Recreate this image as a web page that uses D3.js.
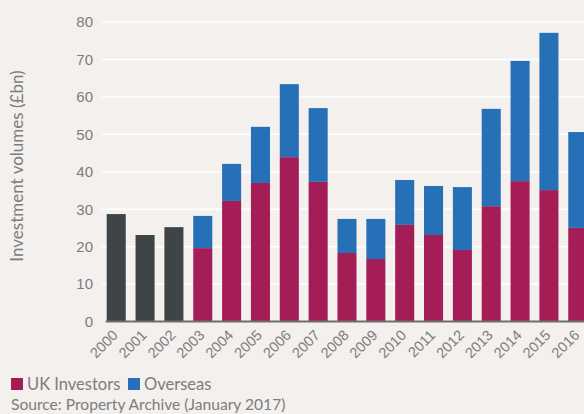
<!DOCTYPE html>
<html>
<head>
<meta charset="utf-8">
<script src="https://cdn.jsdelivr.net/npm/d3@7"></script>
<style>
  html, body { margin: 0; padding: 0; background: #f3f0ed; }
  svg { display: block; font-family: Lato, "Open Sans", sans-serif; }
</style>
</head>
<body>
<script>
const years = ['2000', '2001', '2002', '2003', '2004', '2005', '2006', '2007', '2008',
  '2009', '2010', '2011', '2012', '2013', '2014', '2015', '2016']
// totals for 2000-2002 (no split available)
const totalOnly = [28.7, 23.1, 25.2, null, null, null, null, null, null,
  null, null, null, null, null, null, null, null]
const ukInvestors = [null, null, null, 19.6, 32.2, 37.0, 43.9, 37.3, 18.3,
  16.7, 25.8, 23.1, 19.1, 30.8, 37.5, 35.1, 25.0]
const overseas = [null, null, null, 8.6, 9.9, 15.0, 19.5, 19.7, 9.1,
  10.7, 12.0, 13.1, 16.8, 26.0, 32.1, 42.0, 25.6]
const yTicks = [0, 10, 20, 30, 40, 50, 60, 70, 80]

const colors = {
  uk: '#a51d56',
  overseas: '#2670b8',
  total: '#3f4446',
  text: '#7d7d7d',
  grid: '#ffffff',
  axis: '#6e6e6e'
}

const width = 584
const height = 414
const margin = { left: 102, top: 22, bottom: 92.5 }

const svg = d3.select('body').append('svg')
  .attr('width', width)
  .attr('height', height)

const x = d3.scaleBand()
  .domain(years)
  .range([margin.left, 592])
  .paddingInner(0.34)
  .paddingOuter(0.163)

const y = d3.scaleLinear()
  .domain([0, 80])
  .range([height - margin.bottom, margin.top])

// gridlines
svg.append('g')
  .selectAll('line')
  .data(yTicks.filter(d => d > 0))
  .enter()
  .append('line')
  .attr('x1', margin.left)
  .attr('x2', width)
  .attr('y1', d => y(d))
  .attr('y2', d => y(d))
  .attr('stroke', colors.grid)
  .attr('stroke-width', 1.5)

// y axis
const yAxis = d3.axisLeft(y).tickValues(yTicks).tickSize(0).tickPadding(9)
const gy = svg.append('g')
  .attr('transform', `translate(${margin.left}, 0)`)
  .call(yAxis)
gy.select('.domain').remove()
gy.selectAll('text')
  .attr('fill', colors.text)
  .style('font-size', '15px')

svg.append('text')
  .attr('transform', `translate(23, ${166}) rotate(-90)`)
  .attr('text-anchor', 'middle')
  .attr('fill', colors.text)
  .style('font-size', '17px')
  .text('Investment volumes (£bn)')

const rows = years.map((yr, i) => ({
  year: yr,
  total: totalOnly[i],
  uk: ukInvestors[i],
  overseas: overseas[i]
}))

// grey total bars
svg.append('g')
  .selectAll('rect')
  .data(rows.filter(d => d.total != null))
  .enter()
  .append('rect')
  .attr('x', d => x(d.year))
  .attr('width', x.bandwidth())
  .attr('y', d => y(d.total))
  .attr('height', d => y(0) - y(d.total))
  .attr('fill', colors.total)

// stacked bars
const split = rows.filter(d => d.uk != null)
const stacked = d3.stack().keys(['uk', 'overseas'])(split)

svg.append('g')
  .selectAll('g')
  .data(stacked)
  .enter()
  .append('g')
  .attr('fill', s => colors[s.key])
  .selectAll('rect')
  .data(s => s)
  .enter()
  .append('rect')
  .attr('x', d => x(d.data.year))
  .attr('width', x.bandwidth())
  .attr('y', d => y(d[1]))
  .attr('height', d => y(d[0]) - y(d[1]))

// x axis
const xAxis = d3.axisBottom(x).tickSize(0).tickPadding(0)
const gx = svg.append('g')
  .attr('transform', `translate(0, ${y(0)})`)
  .call(xAxis)
gx.select('.domain')
  .attr('d', `M${x(years[0]) - 1},0H${width}`)
  .attr('stroke', colors.axis)
  .attr('stroke-width', 2)
gx.selectAll('text')
  .attr('fill', colors.text)
  .style('font-size', '14.5px')
  .attr('text-anchor', 'end')
  .attr('x', 0)
  .attr('y', 0)
  .attr('dx', 0)
  .attr('dy', '0.35em')
  .attr('transform', 'translate(-1, 11) rotate(-45)')

// legend
const legend = [
  { label: 'UK Investors', color: colors.uk, x: 11 },
  { label: 'Overseas', color: colors.overseas, x: 128 }
]
const lg = svg.append('g')
  .selectAll('g')
  .data(legend)
  .enter()
  .append('g')
  .attr('transform', d => `translate(${d.x}, 378)`)
lg.append('rect')
  .attr('width', 12)
  .attr('height', 12)
  .attr('fill', d => d.color)
lg.append('text')
  .attr('x', 16)
  .attr('y', 11.5)
  .attr('fill', colors.text)
  .style('font-size', '16.5px')
  .text(d => d.label)

svg.append('text')
  .attr('x', 11)
  .attr('y', 410)
  .attr('fill', colors.text)
  .style('font-size', '15.6px')
  .text('Source: Property Archive (January 2017)')
</script>
</body>
</html>
